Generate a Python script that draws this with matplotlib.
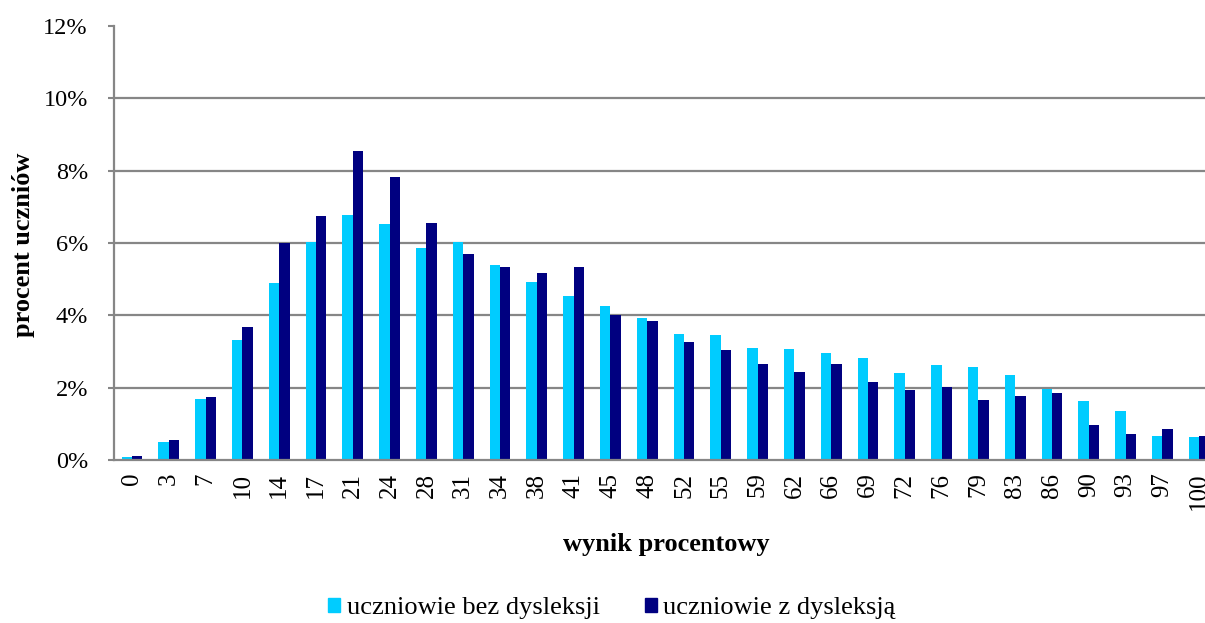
import matplotlib
matplotlib.use('Agg')
import matplotlib.pyplot as plt
import numpy as np
from matplotlib.patches import Patch

plt.rcParams['font.family'] = ['Liberation Serif', 'DejaVu Serif']

# wynik procentowy (kategorie)
wyniki = ['0', '3', '7', '10', '14', '17', '21', '24', '28', '31', '34', '38', '41', '45', '48',
          '52', '55', '59', '62', '66', '69', '72', '76', '79', '83', '86', '90', '93', '97', '100']
# procent uczniow
bez_dysleksji = [0.08, 0.50, 1.68, 3.32, 4.90, 6.02, 6.78, 6.53, 5.85, 6.02, 5.38, 4.93, 4.53, 4.25, 3.92,
                 3.48, 3.45, 3.10, 3.06, 2.95, 2.83, 2.40, 2.62, 2.58, 2.35, 1.96, 1.63, 1.36, 0.67, 0.64]
z_dysleksja = [0.10, 0.55, 1.73, 3.68, 6.00, 6.75, 8.53, 7.82, 6.55, 5.70, 5.35, 5.18, 5.33, 4.02, 3.85,
               3.27, 3.03, 2.65, 2.42, 2.65, 2.16, 1.93, 2.02, 1.65, 1.78, 1.86, 0.97, 0.73, 0.87, 0.66]

c_light = '#00CCFF'
c_dark = '#000080'
grid_c = '#868686'

fig = plt.figure(figsize=(12.05, 6.23), dpi=100)
# os siega poza prawa krawedz obrazka, tak jak w oryginale
ax = fig.add_axes([113.6/1205, 163/623, 1104/1205, 434/623])

x = np.arange(len(wyniki))
w = 0.285
ax.bar(x - w/2, bez_dysleksji, w, color=c_light, zorder=3)
ax.bar(x + w/2, z_dysleksja, w, color=c_dark, zorder=3)

ax.set_xlim(-0.5, len(wyniki) - 0.5)
ax.set_ylim(0, 12)
ax.set_yticks(np.arange(0, 13, 2))
ax.set_yticklabels(['%d%%' % v for v in range(0, 13, 2)])
ax.set_xticks(x)
ax.set_xticklabels(wyniki, rotation=90, va='top', ha='center')

ax.yaxis.grid(True, color=grid_c, lw=1.6, zorder=0)
ax.get_ygridlines()[-1].set_visible(False)
ax.get_ygridlines()[0].set_visible(False)

for s in ['top', 'right']:
    ax.spines[s].set_visible(False)
for s in ['left', 'bottom']:
    ax.spines[s].set_color(grid_c)
    ax.spines[s].set_linewidth(1.6)
ax.spines['bottom'].set_zorder(4)

ax.tick_params(axis='y', length=4.5, width=1.5, color=grid_c, pad=14, labelsize=17.5)
ax.tick_params(axis='x', length=0, pad=9, labelsize=18)

fig.text(24/1205, 1 - 245/623, 'procent uczniów', rotation=90, ha='center', va='center',
         fontsize=19, fontweight='bold')
fig.text(666/1205, 1 - 545/623, 'wynik procentowy', ha='center', va='center',
         fontsize=19, fontweight='bold')

handles = [Patch(color=c_light), Patch(color=c_dark)]
fig.legend(handles, ['uczniowie bez dysleksji', 'uczniowie z dysleksją'],
           loc='center', bbox_to_anchor=(612/1205, 1 - 608/623), ncol=2, frameon=False,
           fontsize=19, handlelength=0.45, handleheight=0.45, handletextpad=0.25,
           columnspacing=1.7, borderpad=0)

fig.savefig('out.png', dpi=100)
